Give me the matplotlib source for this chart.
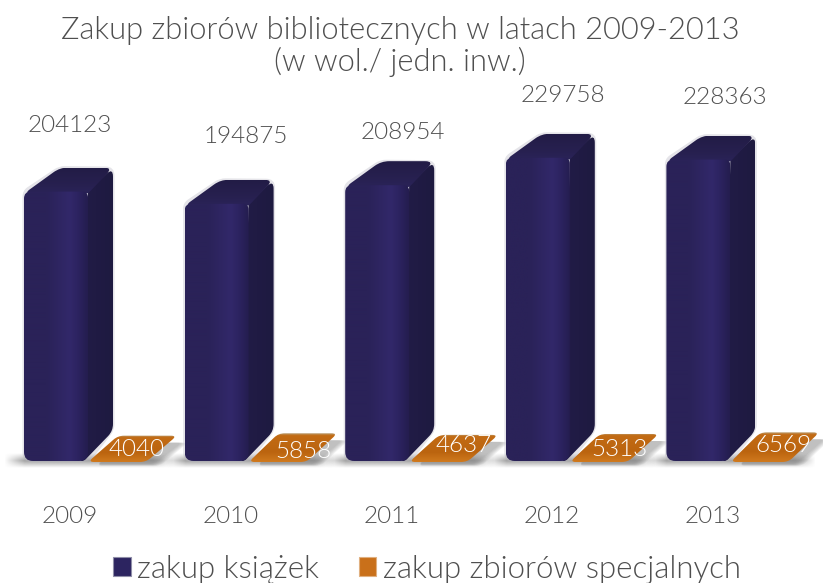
import numpy as np
import matplotlib
matplotlib.use("Agg")
import matplotlib.pyplot as plt
from matplotlib.path import Path
from matplotlib.patches import PathPatch, Patch
from matplotlib.colors import LinearSegmentedColormap, to_rgb

# --- data -----------------------------------------------------------------
years = ["2009", "2010", "2011", "2012", "2013"]
books = [204123, 194875, 208954, 229758, 228363]
special = [4040, 5858, 4637, 5313, 6569]
series_names = ["zakup książek", "zakup zbiorów specjalnych"]
title_text = "Zakup zbiorów bibliotecznych w latach 2009-2013\n(w wol./ jedn. inw.)"

# --- style ----------------------------------------------------------------
FONT = "Lato"
WEIGHT = 300
GREY = "#4f4f4f"
W, H = 823, 583
PX_PER_CAT = 160.6
PX_PER_VAL = 0.00132
X0_PX, BASE_PX, AX_TOP, AX_BOT = 70.0, 461.0, 85.0, 500.0
book_label_off = [(0, 66), (15, 67), (12, 53), (11, 62), (13, 62)]
spec_label_off = [(67, 11), (73, 9), (72, 16), (68, 11), (71, 15)]

plt.rcParams["font.family"] = FONT
fig = plt.figure(figsize=(W / 100, H / 100), dpi=100, facecolor="white")
ax = fig.add_axes([0, (H - AX_BOT) / H, 1, (AX_BOT - AX_TOP) / H])
for s in ax.spines.values():
    s.set_visible(False)
ax.set_yticks([])
ax.set_xticks(range(len(years)), years)
ax.tick_params(axis="x", length=0, pad=4, labelsize=17.5, labelcolor=GREY)
for t in ax.get_xticklabels():
    t.set_fontweight(WEIGHT)


def pt(i, v, dx=0.0, dy=0.0):
    """data position shifted by a pixel offset (dy up)"""
    return (i + dx / PX_PER_CAT, v + dy / PX_PER_VAL)


def rounded(points, radii):
    n = len(points)
    pts = [np.array(p, dtype=float) for p in points]
    sc = np.array([PX_PER_CAT, PX_PER_VAL])
    verts, codes = [], []
    for j in range(n):
        p, a, b = pts[j], pts[j - 1], pts[(j + 1) % n]
        pa = (a - p) * sc
        pb = (b - p) * sc
        la, lb = max(np.hypot(*pa), 1e-9), max(np.hypot(*pb), 1e-9)
        ra = min(radii[j], la / 2)
        rb = min(radii[j], lb / 2)
        p1 = p + pa / la * ra / sc
        p2 = p + pb / lb * rb / sc
        verts += [p1, p, p2]
        codes += [Path.MOVETO if j == 0 else Path.LINETO, Path.CURVE3, Path.CURVE3]
    verts.append(verts[0])
    codes.append(Path.CLOSEPOLY)
    return Path(np.array(verts), codes)


def fill_gradient(path, colors, stops, horizontal=True, z=3):
    patch = PathPatch(path, fc="none", ec="none", transform=ax.transData)
    ax.add_patch(patch)
    cmap = LinearSegmentedColormap.from_list("g", list(zip(stops, colors)))
    g = np.linspace(0, 1, 128)
    arr = g[None, :] if horizontal else g[:, None]
    x0, y0 = path.vertices.min(axis=0)
    x1, y1 = path.vertices.max(axis=0)
    im = ax.imshow(arr, cmap=cmap, vmin=0, vmax=1, extent=(x0, x1, y0, y1),
                   origin="lower", aspect="auto", zorder=z, interpolation="bilinear")
    im.set_clip_path(patch)


def soft_shadow(x0, x1, y0, y1, soft_x, soft_y, alpha, z=1):
    nx, ny = 160, 40
    xs = np.linspace(0, 1, nx)
    ys = np.linspace(0, 1, ny)
    fx = np.clip(np.minimum(xs, 1 - xs) / soft_x, 0, 1)
    fy = np.clip(np.minimum(ys, 1 - ys) / soft_y, 0, 1)
    rgba = np.zeros((ny, nx, 4))
    rgba[..., :3] = to_rgb("#7a7a7a")
    rgba[..., 3] = np.outer(fy, fx) * alpha
    ax.imshow(rgba, extent=(x0, x1, y0, y1), origin="lower", aspect="auto",
              zorder=z, interpolation="bilinear")


L, R = -46, 18
for i, (b, sp) in enumerate(zip(books, special)):
    # shadow on the floor
    (sx0, sy0) = pt(i, 0, L - 20, -7)
    (sx1, sy1) = pt(i, 0, L + 150, 8)
    soft_shadow(sx0, sx1, sy0, sy1, 0.12, 0.5, 0.7)

    # orange bar: shadow + face reaching from the floor up to the back edge
    ox0, ox1 = 19, 76
    for k in range(6):
        off = k * 1.2
        sh = rounded([pt(i, 0, ox0 + 8, -3 - off * 0.3), pt(i, 0, ox1 + 8 + off, -3 - off * 0.3),
                      pt(i, sp, ox1 + 36 + off, 13), pt(i, sp, ox0 + 37, 13)], [5] * 4)
        ax.add_patch(PathPatch(sh, fc="#808080", ec="none", alpha=0.10, zorder=2))
    top = rounded([pt(i, 0, ox0 - 1, -1), pt(i, 0, ox1, -1), pt(i, sp, ox1 + 31, 20), pt(i, sp, ox0 + 29, 20)], [6] * 4)
    fill_gradient(top, ["#d07a1e", "#bb640f", "#c26b14", "#b9a27a"], [0, 0.35, 0.92, 1],
                  horizontal=False, z=3)

    # dark-blue bar: halo, side, top, front
    halo = rounded([pt(i, 0, L - 1.5, -1), pt(i, 0, R + 2, -1), pt(i, 0, R + 26.5, 31), pt(i, b, R + 26.5, 25),
                    pt(i, b, L + 35, 25.5), pt(i, b, L - 1.5, 1)], [9, 9, 6, 9, 6, 6])
    ax.add_patch(PathPatch(halo, fc="#b5b4c0", ec="none", alpha=0.35, zorder=4))
    side = rounded([pt(i, 0, R - 8, 0), pt(i, 0, R - 4, 0), pt(i, 0, R + 25, 30), pt(i, b, R + 25, 24),
                    pt(i, b, R, 0)], [3, 3, 7, 9, 1])
    fill_gradient(side, ["#221c48", "#1e1a40"], [0, 1], z=5)
    tp = rounded([pt(i, b, L, -2), pt(i, b, R, -2), pt(i, b, R + 25, 24), pt(i, b, L + 36, 24)], [7, 2, 9, 8])
    fill_gradient(tp, ["#2a2358", "#27204f", "#221c46"], [0, 0.4, 1], horizontal=False, z=5)
    fr = rounded([pt(i, 0, L, 0), pt(i, 0, R, 0), pt(i, b, R, 0), pt(i, b, L, 0)], [9, 9, 6, 7])
    fill_gradient(fr, ["#2a2258", "#2a2258", "#32286a", "#2c2360", "#241d4f"],
                  [0, 0.35, 0.72, 0.85, 1], z=6)

    # value labels
    dx, dy = book_label_off[i]
    bx, by = pt(i, b, dx, dy)
    ax.text(bx, by, f"{b}", ha="center", va="center", fontsize=17.5, color=GREY,
            fontweight=WEIGHT, zorder=8)
    dx, dy = spec_label_off[i]
    sx, sy = pt(i, 0, dx, dy)
    ax.text(sx, sy, f"{sp}", ha="center", va="center", fontsize=17.5, color="white",
            fontweight=WEIGHT, zorder=8)

ax.set_xlim(-X0_PX / PX_PER_CAT, (W - X0_PX) / PX_PER_CAT)
ax.set_ylim(-(AX_BOT - BASE_PX) / PX_PER_VAL, (BASE_PX - AX_TOP) / PX_PER_VAL)

ax.set_title(title_text, x=400 / W, pad=10, fontsize=22.2, color=GREY,
             fontweight=WEIGHT, linespacing=1.08)

handles = [Patch(fc="#2c2460", ec="#8f8ea8", lw=0.8), Patch(fc="#c9701a", ec="#e0b080", lw=0.8)]
leg = fig.legend(handles, series_names, loc="lower center", bbox_to_anchor=(427 / W, -0.039),
                 ncol=2, frameon=False, fontsize=22.5, handlelength=0.55, handleheight=0.55,
                 handletextpad=0.22, columnspacing=1.25, borderpad=0.2, labelcolor=GREY)
for t in leg.get_texts():
    t.set_fontweight(WEIGHT)

fig.savefig("out.png", dpi=100)
